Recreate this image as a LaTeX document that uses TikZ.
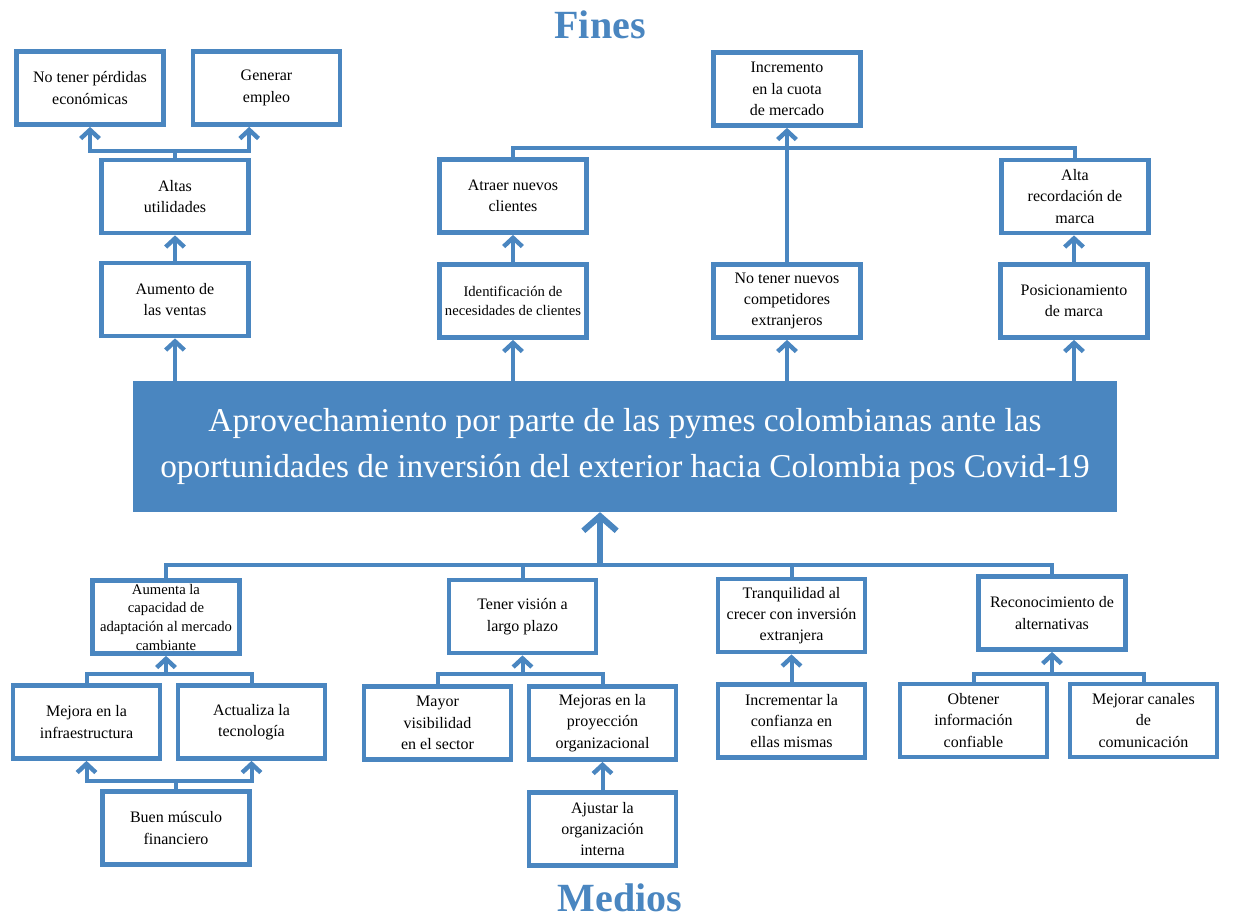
\documentclass[tikz,border=0pt]{standalone}
\usepackage{fontspec}
\setmainfont{Liberation Serif}
\usetikzlibrary{arrows.meta}
\definecolor{azul}{RGB}{74,134,192}
\tikzset{
  caja/.style={draw=azul, line width=3.3pt, fill=white, minimum width=110pt,
    minimum height=55pt, inner sep=1pt, align=center, font=\fontsize{12}{16}\selectfont},
  chica/.style={font=\fontsize{11}{14.5}\selectfont},
  linea/.style={draw=azul, line width=3pt},
  flecha/.style={linea, -{Straight Barb[length=6.5pt, width=14pt, line width=3.3pt]}},
  titulo/.style={text=azul, font=\bfseries\fontsize{30}{34}\selectfont},
}
\begin{document}
\begin{tikzpicture}[x=0.75pt, y=-0.75pt]
  \useasboundingbox (0,0) rectangle (1233,921);
  \node[titulo] (fines) at (600,25) {Fines};
  \node[titulo] (medios) at (620,898) {Medios};
  % problema central
  \node[fill=azul, text=white, minimum width=738pt, minimum height=98pt, align=center,
    font=\fontsize{25}{34}\selectfont] (main) at (625,446.5)
    {Aprovechamiento por parte de las pymes colombianas ante las\\oportunidades de inversi\'on del exterior hacia Colombia pos Covid-19};
  % fines
  \node[caja] (nop) at (90,88) {No tener p\'erdidas\\econ\'omicas};
  \node[caja] (gen) at (266.5,88) {Generar\\empleo};
  \node[caja] (alt) at (175,196.5) {Altas\\utilidades};
  \node[caja] (aum) at (175,299.5) {Aumento de\\las ventas};
  \node[caja] (inc) at (787,89) {Incremento\\en la cuota\\de mercado};
  \node[caja] (atr) at (513,196) {Atraer nuevos\\clientes};
  \node[caja, chica] (idc) at (513,301) {Identificaci\'on de\\necesidades de clientes};
  \node[caja] (ntn) at (787,301) {No tener nuevos\\competidores\\extranjeros};
  \node[caja] (alr) at (1075,196.5) {Alta\\recordaci\'on de\\marca};
  \node[caja] (pos) at (1074,301) {Posicionamiento\\de marca};
  % medios
  \node[caja, chica, inner sep=0pt, font=\fontsize{11}{14}\selectfont] (aca) at (166,617) {Aumenta la\\capacidad de\\adaptaci\'on al mercado\\cambiante};
  \node[caja] (mej) at (86.5,722) {Mejora en la\\infraestructura};
  \node[caja] (act) at (251.5,722) {Actualiza la\\tecnolog\'ia};
  \node[caja] (bmf) at (176,828) {Buen m\'usculo\\financiero};
  \node[caja] (tvl) at (522.5,616.5) {Tener visi\'on a\\largo plazo};
  \node[caja] (may) at (437.5,723) {Mayor\\visibilidad\\en el sector};
  \node[caja] (mpo) at (602.5,723) {Mejoras en la\\proyecci\'on\\organizacional};
  \node[caja] (ajo) at (602.5,829) {Ajustar la\\organizaci\'on\\interna};
  \node[caja] (tcr) at (791.5,615.5) {Tranquilidad al\\crecer con inversi\'on\\extranjera};
  \node[caja] (icm) at (791.5,721) {Incrementar la\\confianza en\\ellas mismas};
  \node[caja] (rec) at (1052,613) {Reconocimiento de\\alternativas};
  \node[caja] (obt) at (973.5,720.5) {Obtener\\informaci\'on\\confiable};
  \node[caja] (mca) at (1143.5,720.5) {Mejorar canales\\de\\comunicaci\'on};
  \coordinate (h) at (600,565);

  % conectores de fines
  \draw[flecha] (aum.south |- main.north) -- (aum.south);
  \draw[flecha] (idc.south |- main.north) -- (idc.south);
  \draw[flecha] (ntn.south |- main.north) -- (ntn.south);
  \draw[flecha] (pos.south |- main.north) -- (pos.south);
  \draw[flecha] (aum.north) -- (alt.south);
  \draw[flecha] (alt.north) -- ++(0,-7) -| (nop.south);
  \draw[flecha] (alt.north) -- ++(0,-7) -| ([xshift=-13pt]gen.south);
  \draw[flecha] (idc.north) -- (atr.south);
  \draw[flecha] (pos.north) -- (pos.north |- alr.south);
  \draw[flecha] (ntn.north) -- (inc.south);
  \draw[linea] (atr.north) -- ++(0,-9) -| (alr.north);

  % conectores de medios
  \draw[flecha, line width=4.5pt, -{Straight Barb[length=11pt, width=25pt, line width=4.5pt]}] (h) -- (h |- main.south);
  \draw[linea] (aca.north) -- (aca.north |- h) -- (rec.north |- h) -- (rec.north);
  \draw[linea] (tvl.north) -- (tvl.north |- h);
  \draw[linea] (tcr.north) -- (tcr.north |- h);
  \draw[linea] (mej.north) -- ++(0,-9) -| (act.north);
  \draw[flecha] (aca.south) ++(0,16) -- (aca.south);
  \draw[flecha] (bmf.north) -- ++(0,-8) -| (mej.south);
  \draw[flecha] (bmf.north) -- ++(0,-8) -| (act.south);
  \draw[linea] (may.north) -- ++(0,-10) -| (mpo.north);
  \draw[flecha] (tvl.south) ++(0,17) -- (tvl.south);
  \draw[flecha] (ajo.north) -- (mpo.south);
  \draw[flecha] (icm.north) -- (tcr.south);
  \draw[linea] (obt.north) -- ++(0,-8) -| (mca.north);
  \draw[flecha] (rec.south) ++(0,20) -- (rec.south);
\end{tikzpicture}
\end{document}
